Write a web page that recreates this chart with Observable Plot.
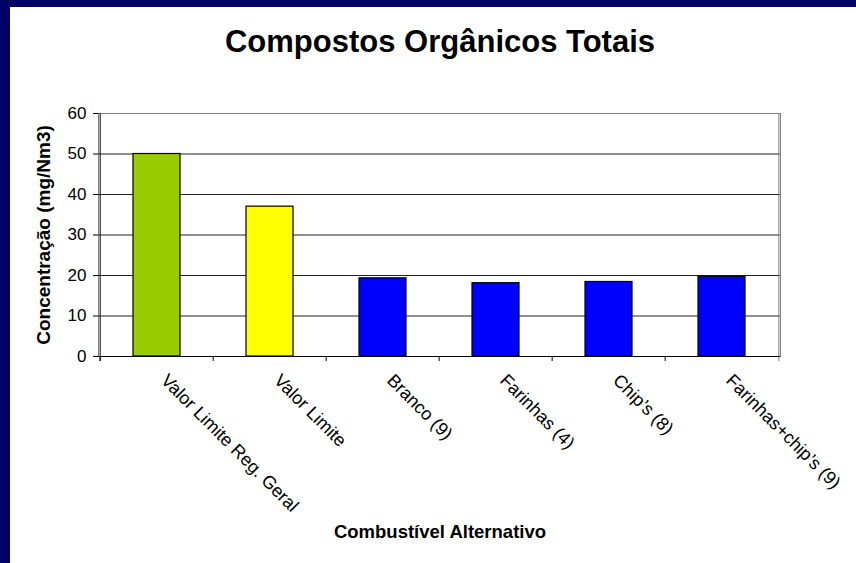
<!DOCTYPE html>
<html><head><meta charset="utf-8">
<script src="https://cdn.jsdelivr.net/npm/d3@7"></script>
<script src="https://cdn.jsdelivr.net/npm/@observablehq/plot@0.6"></script>
<style>
body{margin:0;background:#fff;}
#wrap{position:relative;width:856px;height:563px;background:#000066;overflow:hidden;font-family:"Liberation Sans",Arial,sans-serif;}
#panel{position:absolute;left:10px;top:7px;width:846px;height:556px;background:#fff;}
.title{position:absolute;left:430px;top:19px;transform:translateX(-50%);white-space:nowrap;font-size:31px;line-height:31px;font-weight:bold;color:#000;}
.xtitle{position:absolute;left:430px;top:516px;transform:translateX(-50%);white-space:nowrap;font-size:18.5px;line-height:18px;font-weight:bold;color:#000;}
#chart{position:absolute;left:0;top:83px;}
</style></head>
<body>
<div id="wrap"><div id="panel">
<div class="title">Compostos Orgânicos Totais</div>
<div id="chart"></div>
<div class="xtitle">Combustível Alternativo</div>
</div></div>
<script>
const categories = ["Valor Limite Reg. Geral", "Valor Limite", "Branco (9)", "Farinhas (4)", "Chip’s (8)", "Farinhas+chip’s (9)"];
const values = [50, 37, 19.3, 18.1, 18.4, 19.7];
const colors = ["#99CC00", "#FFFF00", "#0000FF", "#0000FF", "#0000FF", "#0000FF"];
const yTicks = [0, 10, 20, 30, 40, 50, 60];
const yLabel = "Concentração (mg/Nm3)";

const data = categories.map((c, i) => ({cat: c, value: values[i], color: colors[i]}));

const W = 846, H = 430, mL = 88, mR = 76, mT = 23, mB = 164;
const step = (W - mL - mR) / categories.length;

const chart = Plot.plot({
  width: W, height: H,
  marginTop: mT, marginLeft: mL, marginRight: mR, marginBottom: mB,
  style: {fontFamily: "'Liberation Sans', Arial, sans-serif", fontSize: "17px", color: "#000", background: "transparent", overflow: "visible"},
  x: {domain: categories, paddingInner: 0.587, paddingOuter: 0.2935, label: null},
  y: {domain: [0, 60], label: null},
  marks: [
    Plot.frame({stroke: "#808080", fill: "#fff"}),
    Plot.ruleY(yTicks.filter(d => d > 0 && d < 60), {stroke: "#222"}),
    Plot.barY(data, {x: "cat", y: "value", fill: "color", stroke: "#000", strokeWidth: 1.2}),
    Plot.ruleX(categories, {x: d => d, dx: -step / 2, y1: 0, y2: 0, insetBottom: -5, stroke: "#000"}),
    Plot.ruleX([categories[categories.length - 1]], {x: d => d, dx: step / 2, y1: 60, y2: 0, insetBottom: -5, stroke: "#808080"}),
    Plot.ruleX([categories[0]], {x: d => d, dx: -step / 2, y1: 60, y2: 0, insetBottom: -5, stroke: "#000"}),
    Plot.ruleY([0], {stroke: "#000"}),
    Plot.axisY({ticks: yTicks, tickSize: 5, tickPadding: 7, label: null, fontSize: 17}),
    Plot.axisX({tickSize: 0, tickPadding: 21, tickRotate: 45, label: null, dx: 7, fontSize: 18}),
    Plot.text([yLabel], {frameAnchor: "left", rotate: -90, dx: -55, textAnchor: "middle", fontWeight: "bold", fontSize: 19, lineAnchor: "middle", text: d => d})
  ]
});
document.getElementById("chart").appendChild(chart);
</script>
</body></html>
